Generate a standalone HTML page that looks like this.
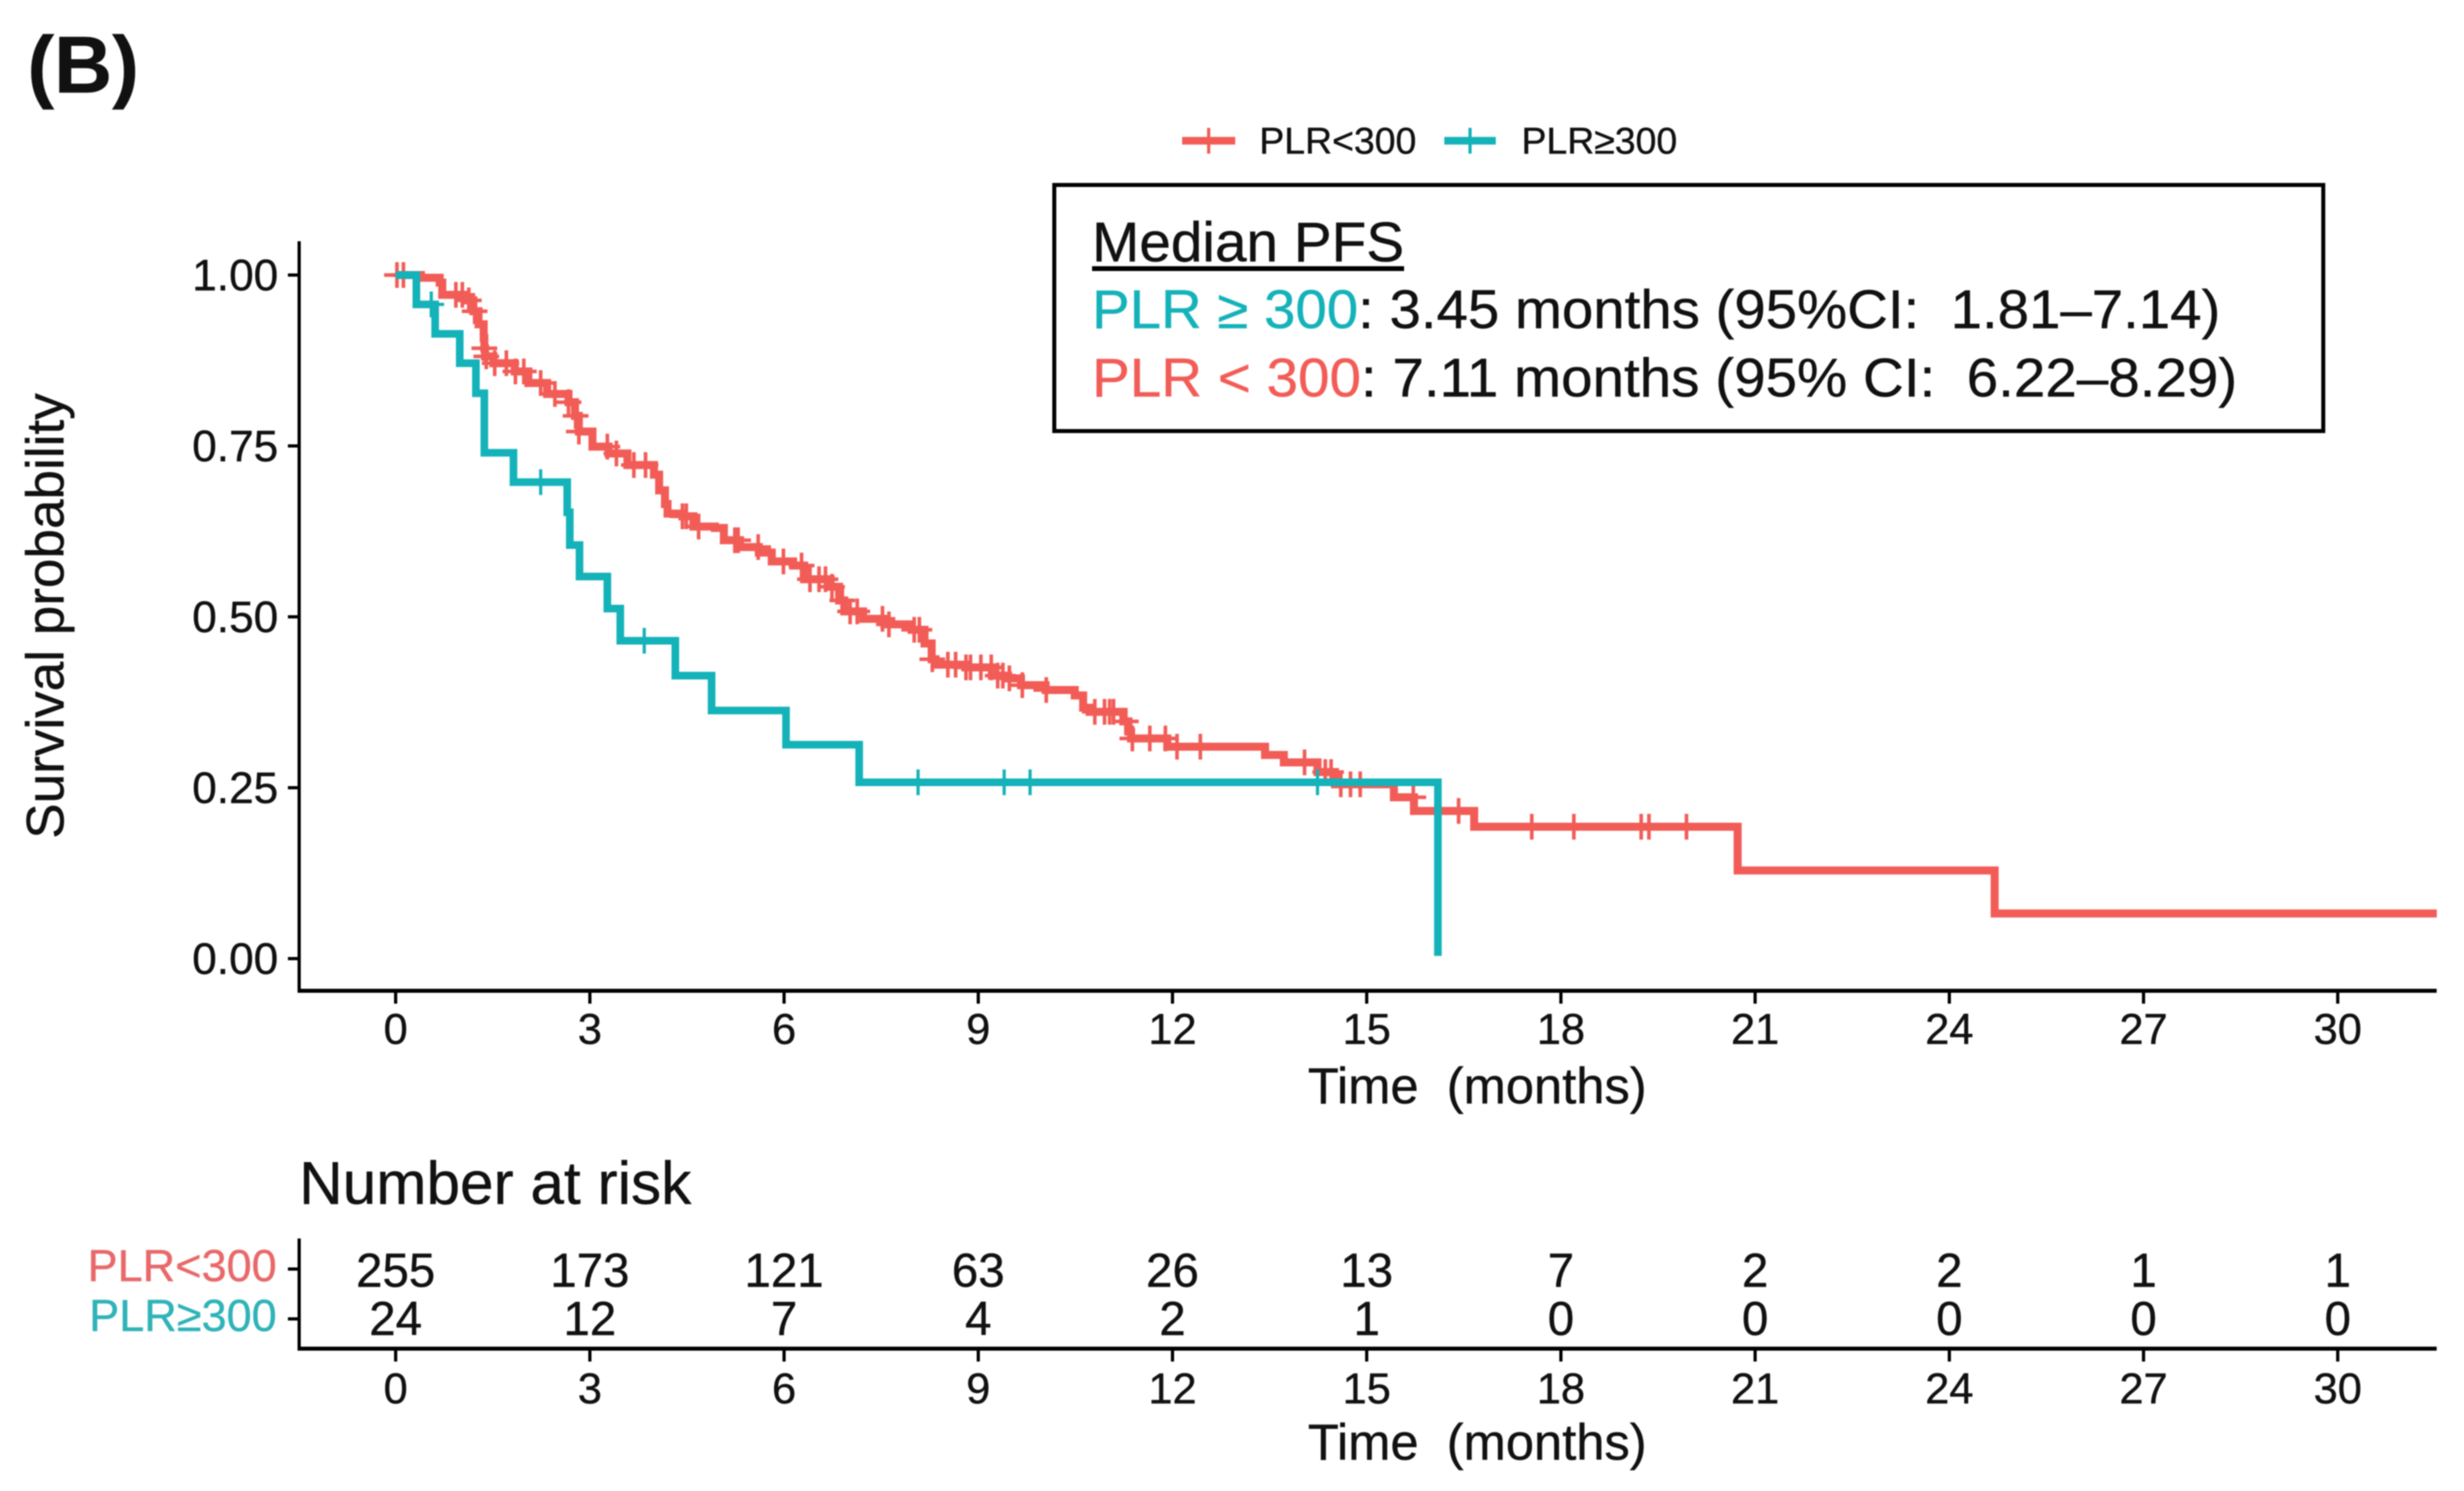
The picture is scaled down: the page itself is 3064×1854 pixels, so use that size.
<!DOCTYPE html>
<html lang="en">
<head>
<meta charset="utf-8">
<title>Kaplan-Meier PFS by PLR</title>
<style>
html,body{margin:0;padding:0;background:#fff;width:3064px;height:1854px;overflow:hidden}
svg{display:block;filter:blur(0.8px)}
text{font-family:"Liberation Sans",sans-serif;fill:#111;white-space:pre;stroke:currentColor;stroke-width:0.5px;color:#111}
</style>
</head>
<body>
<svg id="chart" xmlns="http://www.w3.org/2000/svg" width="3064" height="1854" viewBox="0 0 3064 1854">
  <text x="34" y="115" font-size="100" font-weight="bold">(B)</text>

  <g>
    <g>
      <line x1="1470" x2="1536" y1="175" y2="175" stroke="#F25C57" stroke-width="9.5"/>
      <line x1="1503" x2="1503" y1="159" y2="191" stroke="#F25C57" stroke-width="4"/>
      <text x="1566" y="191" font-size="46.5">PLR&lt;300</text>
    </g>
    <g>
      <line x1="1796" x2="1860" y1="175" y2="175" stroke="#14B2B9" stroke-width="9.5"/>
      <line x1="1828" x2="1828" y1="159" y2="191" stroke="#14B2B9" stroke-width="4"/>
      <text x="1892" y="191" font-size="46.5">PLR≥300</text>
    </g>
  </g>

  <g id="plot"></g>

  <g>
    <rect x="1311" y="230" width="1578" height="306" fill="none" stroke="#000" stroke-width="5"/>
    <text x="1358" y="325" font-size="70" textLength="388" lengthAdjust="spacingAndGlyphs">Median PFS</text>
    <rect x="1358" y="331" width="388" height="6" fill="#000"/>
    <text x="1358" y="408" font-size="68" textLength="1403" lengthAdjust="spacingAndGlyphs"><tspan fill="#14B2B9" style="color:#14B2B9">PLR ≥ 300</tspan>: 3.45 months (95%CI:  1.81–7.14)</text>
    <text x="1358" y="493" font-size="68" textLength="1424" lengthAdjust="spacingAndGlyphs"><tspan fill="#F25C57" style="color:#F25C57">PLR &lt; 300</tspan>: 7.11 months (95% CI:  6.22–8.29)</text>
  </g>

  <text transform="translate(79 766) rotate(-90)" text-anchor="middle" font-size="66">Survival probability</text>
  <text x="1837" y="1372" text-anchor="middle" font-size="63">Time  (months)</text>

  <text x="372" y="1497" font-size="75">Number at risk</text>
  <g id="risk"></g>
  <text x="1837" y="1815" text-anchor="middle" font-size="63">Time  (months)</text>
</svg>
<script>
const xTicks = [0, 3, 6, 9, 12, 15, 18, 21, 24, 27, 30];
const yTicks = ['1.00', '0.75', '0.50', '0.25', '0.00'];

const lowTimes = [0, 0.39, 0.68, 0.72, 1.09, 1.2, 1.28, 1.36, 1.37, 1.38, 1.51, 1.84, 2.05, 2.34, 2.67, 2.77, 2.83, 3.04, 3.29, 3.58, 3.99, 4.07, 4.16, 4.2, 4.43, 4.6, 4.93, 5.07, 5.32, 5.61, 5.81, 6.14, 6.31, 6.72, 6.85, 6.93, 7.22, 7.55, 7.97, 8.17, 8.28, 8.34, 8.8, 9.21, 9.46, 9.66, 10.04, 10.49, 10.62, 10.72, 11.24, 11.32, 11.36, 11.92, 13.43, 13.72, 14.24, 14.51, 15.42, 15.73, 16.66, 20.73, 24.7];
const lowSurv = [1, 0.996, 0.989, 0.971, 0.963, 0.947, 0.928, 0.908, 0.893, 0.881, 0.871, 0.859, 0.842, 0.826, 0.814, 0.794, 0.771, 0.749, 0.739, 0.722, 0.708, 0.685, 0.665, 0.651, 0.647, 0.632, 0.63, 0.612, 0.602, 0.594, 0.581, 0.575, 0.555, 0.544, 0.524, 0.508, 0.497, 0.489, 0.481, 0.461, 0.438, 0.43, 0.426, 0.414, 0.41, 0.4, 0.393, 0.385, 0.367, 0.361, 0.347, 0.332, 0.322, 0.31, 0.298, 0.287, 0.273, 0.255, 0.236, 0.216, 0.193, 0.129, 0.066];
const lowCensor = [0.02, 0.12, 0.93, 1.03, 1.13, 1.22, 1.37, 1.4, 1.53, 1.71, 1.85, 1.98, 2.24, 2.46, 2.67, 2.78, 2.83, 3.27, 3.41, 3.68, 3.86, 4.43, 4.49, 4.68, 5.24, 5.29, 5.6, 5.99, 6.27, 6.4, 6.54, 6.64, 6.74, 6.9, 7.02, 7.13, 7.52, 7.62, 8.01, 8.09, 8.29, 8.53, 8.65, 8.81, 8.88, 9.04, 9.2, 9.3, 9.38, 9.48, 9.68, 10.05, 10.8, 10.95, 11.03, 11.09, 11.28, 11.38, 11.65, 11.89, 12.07, 12.43, 14.04, 14.36, 14.45, 14.6, 14.75, 14.9, 15.72, 16.42, 17.55, 18.2, 19.24, 19.36, 19.94];

const highTimes = [0, 0.32, 0.61, 0.99, 1.24, 1.37, 1.82, 2.65, 2.69, 2.84, 3.27, 3.47, 4.32, 4.88, 6.03, 7.16, 16.1];
const highSurv = [1, 0.957, 0.914, 0.871, 0.827, 0.74, 0.697, 0.653, 0.605, 0.559, 0.512, 0.465, 0.414, 0.363, 0.313, 0.258, 0.004];
const highCensor = [0.55, 2.24, 3.84, 8.07, 9.4, 9.8, 14.24];

const riskLow = [255, 173, 121, 63, 26, 13, 7, 2, 2, 1, 1];
const riskHigh = [24, 12, 7, 4, 2, 1, 0, 0, 0, 0, 0];
const xMaxMonths = 31.53;

const RED = '#F25C57', TEAL = '#14B2B9';
const NS = 'http://www.w3.org/2000/svg';
const plot = document.getElementById('plot');
const risk = document.getElementById('risk');
const xScale = t => 492 + t * 80.5;
const yScale = s => 1192 - s * 850;

function mk(parent, tag, attrs, txt) {
  const el = document.createElementNS(NS, tag);
  for (const k in attrs) el.setAttribute(k, attrs[k]);
  if (txt !== undefined) el.textContent = txt;
  parent.appendChild(el);
  return el;
}
function survAt(times, surv, t) {
  let s = surv[0];
  for (let i = 0; i < times.length; i++) { if (times[i] <= t) s = surv[i]; }
  return s;
}
function stepPath(times, surv, tEnd) {
  let d = 'M' + xScale(times[0]) + ' ' + yScale(surv[0]);
  for (let i = 1; i < times.length; i++) {
    d += 'H' + xScale(times[i]) + 'V' + yScale(surv[i]);
  }
  if (tEnd !== undefined) d += 'H' + xScale(tEnd);
  return d;
}

/* axes */
const yAxis = mk(plot, 'line', {x1: 372, x2: 372, y1: 300, y2: 1234, stroke: '#000', 'stroke-width': 4});


const xAxis = mk(plot, 'line', {x1: 370, x2: 3030, y1: 1232, y2: 1232, stroke: '#000', 'stroke-width': 5});



yTicks.forEach(lbl => {
  const y = yScale(parseFloat(lbl));
  const tick = mk(plot, 'line', {x1: 358, x2: 372, y1: y, y2: y, stroke: '#000', 'stroke-width': 4});
  
  
  const label = mk(plot, 'text', {x: 346, y: y + 19, 'text-anchor': 'end', 'font-size': 55}, lbl);
  
  
});
xTicks.forEach(t => {
  const x = xScale(t);
  const tick = mk(plot, 'line', {x1: x, x2: x, y1: 1232, y2: 1248, stroke: '#000', 'stroke-width': 4});
  
  
  const label = mk(plot, 'text', {x: x, y: 1298, 'text-anchor': 'middle', 'font-size': 54}, t);
  
  
});

/* series */
function drawCensors(times, surv, censor, color, name, w) {
  censor.forEach(t => {
    const x = xScale(t), y = yScale(survAt(times, surv, t));
    const mark = mk(plot, 'path', {d: 'M' + (x - 16) + ' ' + y + 'H' + (x + 16) + 'M' + x + ' ' + (y - 16) + 'V' + (y + 16), stroke: color, 'stroke-width': w, fill: 'none'});
    
    
  });
}
const lowLine = mk(plot, 'path', {d: stepPath(lowTimes, lowSurv, xMaxMonths), fill: 'none', stroke: RED, 'stroke-width': 10});


drawCensors(lowTimes, lowSurv, lowCensor, RED, 'censor-mark-plr-low', 4.5);
const highLine = mk(plot, 'path', {d: stepPath(highTimes, highSurv), fill: 'none', stroke: TEAL, 'stroke-width': 9.5});


drawCensors(highTimes, highSurv, highCensor, TEAL, 'censor-mark-plr-high', 4);

/* risk table */
const rAxisY = mk(risk, 'line', {x1: 372, x2: 372, y1: 1540, y2: 1679, stroke: '#000', 'stroke-width': 4});


const rAxisX = mk(risk, 'line', {x1: 370, x2: 3030, y1: 1677, y2: 1677, stroke: '#000', 'stroke-width': 5});



function riskRow(values, tickY, baseY, labelY, labelText, color, name) {
  const tick = mk(risk, 'line', {x1: 358, x2: 372, y1: tickY, y2: tickY, stroke: '#000', 'stroke-width': 4});
  
  
  const label = mk(risk, 'text', {x: 344, y: labelY, 'text-anchor': 'end', 'font-size': 56, style: 'fill:' + color + ';color:' + color}, labelText);
  
  
  values.forEach((v, i) => {
    const cell = mk(risk, 'text', {x: xScale(xTicks[i]), y: baseY, 'text-anchor': 'middle', 'font-size': 59}, v);
    
    
  });
}
riskRow(riskLow, 1578, 1600, 1593, 'PLR<300', '#E8696A', 'risk-row-plr-low');
riskRow(riskHigh, 1640, 1660, 1655, 'PLR≥300', '#2FB3B8', 'risk-row-plr-high');

xTicks.forEach(t => {
  const x = xScale(t);
  const tick = mk(risk, 'line', {x1: x, x2: x, y1: 1677, y2: 1693, stroke: '#000', 'stroke-width': 4});
  
  
  const label = mk(risk, 'text', {x: x, y: 1745, 'text-anchor': 'middle', 'font-size': 54}, t);
  
  
});
</script>
</body>
</html>
